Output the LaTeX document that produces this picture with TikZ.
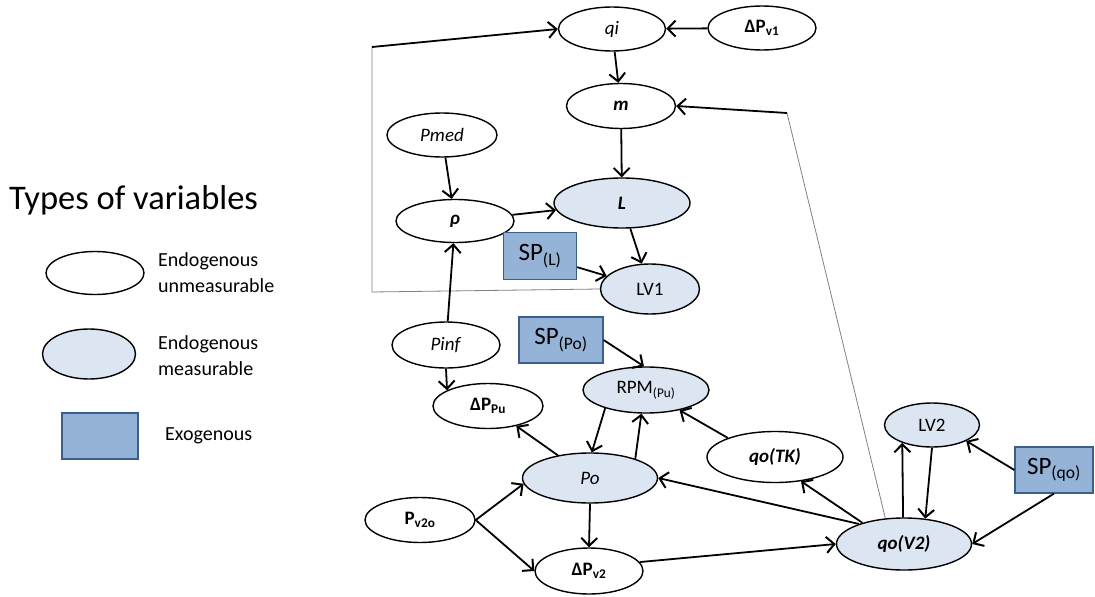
\documentclass[tikz,border=0pt]{standalone}
\usepackage{fontspec}
\setmainfont{Carlito}
\usetikzlibrary{shapes.geometric,arrows.meta}
\definecolor{meas}{HTML}{DCE6F2}
\definecolor{exo}{HTML}{95B3D7}
\definecolor{exoline}{HTML}{3B5E8C}
\begin{document}
\begin{tikzpicture}[x=1pt,y=-1pt,
  var/.style={ellipse,draw,line width=1.4pt,inner sep=0pt,font=\fontsize{19}{22}\selectfont},
  unm/.style={var,fill=white},
  mea/.style={var,fill=meas},
  exob/.style={rectangle,draw=exoline,fill=exo,line width=1.2pt,inner sep=0pt,font=\fontsize{25}{29}\selectfont},
  arr/.style={line width=1.8pt,-{Straight Barb[length=8pt,width=16pt,line width=2pt]}},
  greyl/.style={draw=gray,line width=0.8pt},
  legtext/.style={anchor=west,align=left,inner sep=0pt,font=\fontsize{20}{26}\selectfont}
]
\useasboundingbox (0,0) rectangle (1095,597);

% legend
\node[anchor=west,inner sep=0pt,font=\fontsize{34.5}{40}\selectfont] (title) at (9,200) {Types of variables};
\node[unm,minimum width=98,minimum height=43] (legu) at (95,273) {};
\node[legtext] (legut) at (158,273) {Endogenous\\unmeasurable};
\node[mea,minimum width=93,minimum height=50] (legm) at (89,354) {};
\node[legtext] (legmt) at (158,356) {Endogenous\\measurable};
\node[exob,minimum width=76,minimum height=46] (lege) at (100,436) {};
\node[legtext] (leget) at (165,436) {Exogenous};

% nodes
\node[unm,minimum width=107,minimum height=44] (qi) at (612,29) {\textit{qi}};
\node[unm,minimum width=108,minimum height=44] (dpv1) at (762,28) {\textbf{ΔP\textsubscript{v1}}};
\node[unm,minimum width=109,minimum height=45] (m) at (621,106) {\textbf{\textit{m}}};
\node[unm,minimum width=110,minimum height=44] (pmed) at (442,135) {\textit{Pmed}};
\node[unm,minimum width=118,minimum height=43] (rho) at (455,221) {\textbf{\textit{ρ}}};
\node[mea,minimum width=136,minimum height=50] (L) at (622,203) {\textbf{\textit{L}}};
\node[exob,minimum width=73,minimum height=47] (spl) at (540,256) {SP\textsubscript{(L)}};
\node[mea,minimum width=99,minimum height=50] (lv1) at (650,289) {LV1};
\node[unm,minimum width=108,minimum height=46] (pinf) at (446,345) {\textit{Pinf}};
\node[exob,minimum width=84,minimum height=46] (spo) at (561,340) {SP\textsubscript{(Po)}};
\node[mea,minimum width=126,minimum height=46] (rpm) at (646,390) {RPM\textsubscript{(Pu)}};
\node[unm,minimum width=110,minimum height=45] (dppu) at (488,406) {\textbf{ΔP\textsubscript{Pu}}};
\node[mea,minimum width=135,minimum height=50] (po) at (590,478) {\textit{Po}};
\node[unm,minimum width=110,minimum height=45] (pv2o) at (420,520) {\textbf{P\textsubscript{v2o}}};
\node[unm,minimum width=108,minimum height=46] (dpv2) at (589,571) {\textbf{ΔP\textsubscript{v2}}};
\node[unm,minimum width=136,minimum height=51] (qotk) at (775,457) {\textbf{\textit{qo(TK)}}};
\node[mea,minimum width=95,minimum height=44] (lv2) at (932,425) {LV2};
\node[exob,minimum width=78,minimum height=46] (spqo) at (1054,470) {SP\textsubscript{(qo)}};
\node[mea,minimum width=135,minimum height=52] (qov2) at (904,544) {\textbf{\textit{qo(V2)}}};

\coordinate (c0) at (372,292);
\coordinate (c1) at (372,47);
\coordinate (c2) at (787,113);

% feedback lines
\draw[greyl] (lv1.west) -- (c0) -- (c1);
\draw[arr] (c1) -- (qi.west);
\draw[greyl] (qov2.126) -- (c2);
\draw[arr] (c2) -- (m.east);

% edges
\draw[arr] (dpv1) -- (qi);
\draw[arr] (qi) -- (m);
\draw[arr] (m) -- (L);
\draw[arr] (pmed) -- (rho);
\draw[arr] (rho) -- (L);
\draw[arr] (L) -- (lv1);
\draw[arr] (spl) -- (lv1);
\draw[arr] (pinf) -- (rho);
\draw[arr] (pinf.south) -- (dppu.159);
\draw[arr] (spo.east) -- (rpm.95);
\draw[arr] (rpm.204) -- (po.86);
\draw[arr] (po.23) -- (rpm.259);
\draw[arr] (po) -- (dppu);
\draw[arr] (pv2o.east) -- (po.185);
\draw[arr] (pv2o.east) -- (dpv2.180);
\draw[arr] (po.south) -- (dpv2.north);
\draw[arr] (dpv2.10) -- (qov2.west);
\draw[arr] (qov2.156) -- (po.east);
\draw[arr] (qov2.153) -- (qotk.317);
\draw[arr] (qotk.158) -- (rpm.329);
\draw[arr] (qov2.92) -- (lv2.211);
\draw[arr] (lv2.south) -- (qov2.50);
\draw[arr] (spqo.west) -- (lv2.335);
\draw[arr] (spqo.south) -- (qov2.east);
\end{tikzpicture}
\end{document}
